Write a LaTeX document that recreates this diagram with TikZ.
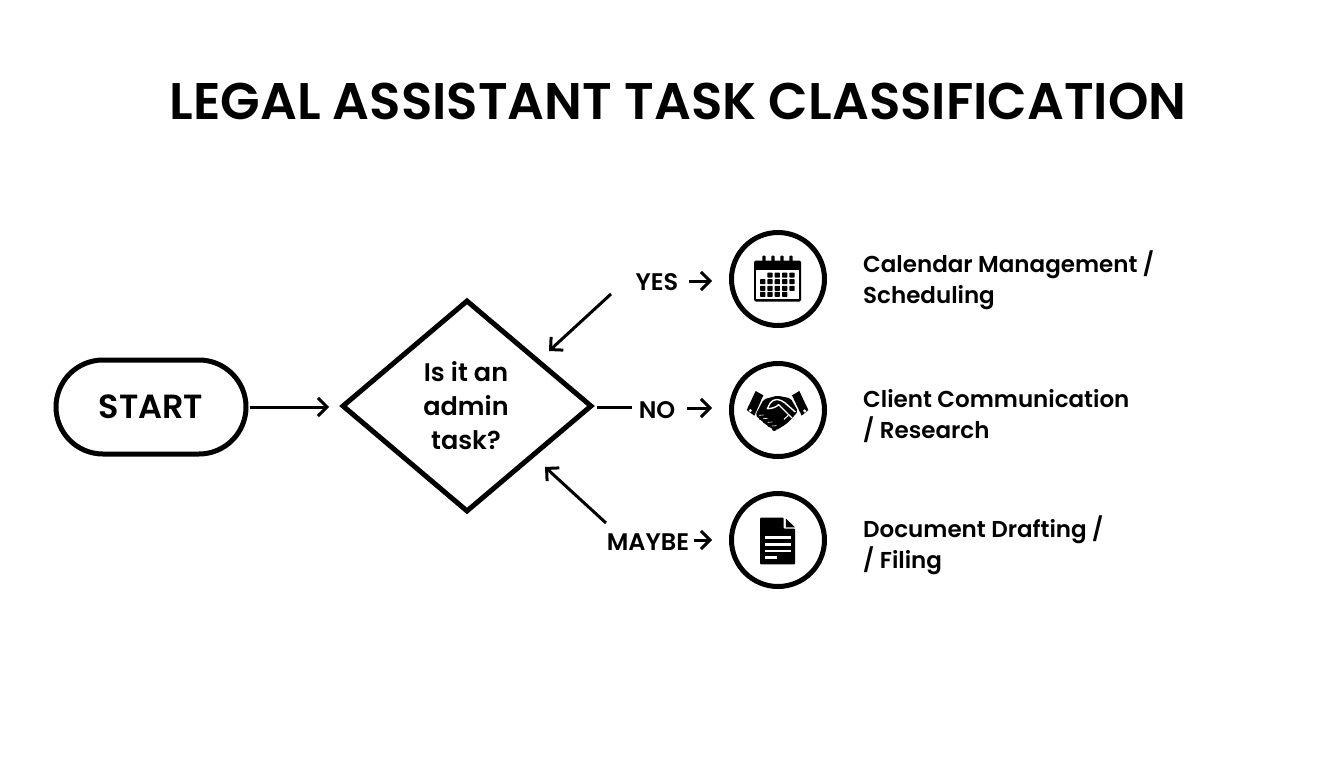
\documentclass[tikz,border=0pt]{standalone}
\usepackage{fontspec}
\setmainfont{Poppins}[UprightFont=* SemiBold,BoldFont=* SemiBold]
\usetikzlibrary{arrows.meta,shapes.geometric}
\tikzset{
  shapeline/.style={draw=black,line width=5pt,line join=miter},
  conn/.style={draw=black,line width=3pt,-{Straight Barb[length=9pt,width=18pt,line width=3pt]}},
  plainconn/.style={draw=black,line width=3pt},
  iconring/.style={circle,draw=black,line width=5pt,minimum size=93pt,inner sep=0pt},
  lab/.style={inner sep=0pt,font=\fontsize{24}{24}\selectfont},
  desc/.style={inner sep=0pt,anchor=west,align=left,font=\fontsize{23}{30.5}\selectfont},
  ink/.style={fill=black,draw=none},
  paper/.style={fill=white,draw=none},
}
\begin{document}
\begin{tikzpicture}[x=1pt,y=-1pt]
\useasboundingbox (0,0) rectangle (1344,768);
\fill[white] (0,0) rectangle (1344,768);
\node[inner sep=0pt,font=\fontsize{51.5}{51.5}\selectfont] (title) at (678,101) {LEGAL ASSISTANT TASK CLASSIFICATION};
\node[shapeline,rounded corners=47pt,minimum width=190pt,minimum height=94pt,inner sep=0pt,font=\fontsize{33.5}{33.5}\selectfont] (start) at (151,407) {START};
\node[shapeline,diamond,inner sep=0pt,aspect=1.18,minimum height=212pt,minimum width=250pt] (dec) at (467,406) {};
\node[inner sep=0pt,align=center,font=\fontsize{25.5}{34}\selectfont] (dectext) at (466,406) {Is it an\\admin\\task?};
\draw[conn] (start.east) ++(1,0) coordinate (s1) -- (329,407) coordinate (s2);
\node[iconring] (c1) at (778,279) {};
\node[iconring] (c2) at (778,410) {};
\node[iconring] (c3) at (778,540) {};
\node[lab] (yes) at (657,282) {YES};
\node[lab] (no) at (657,410) {NO};
\node[lab] (maybe) at (648,542) {MAYBE};
\coordinate (y1) at (611,294); \coordinate (y2) at (549,351);
\coordinate (m1) at (606,523); \coordinate (m2) at (545,467);
\coordinate (n1) at (597,407); \coordinate (n2) at (632,407);
\coordinate (ya) at (689,281); \coordinate (yb) at (712,281);
\coordinate (na) at (687,408); \coordinate (nb) at (712,408);
\coordinate (ma) at (694,540); \coordinate (mb) at (712,540);
\draw[conn] (y1) -- (y2);
\draw[conn] (m1) -- (m2);
\draw[plainconn] (n1) -- (n2);
\draw[conn] (ya) -- (yb);
\draw[conn] (na) -- (nb);
\draw[conn] (ma) -- (mb);
\node[desc] (d1) at (863,280) {Calendar Management /\\Scheduling};
\node[desc] (d2) at (863,416) {Client Communication\\/ Research};
\node[desc] (d3) at (863,545) {Document Drafting /\\/ Filing};
% calendar icon
\begin{scope}
\fill[ink,rounded corners=1.5pt] (754,260.5) rectangle (801,301.5);
\fill[paper] (756.3,270) rectangle (798.7,299.2);
\foreach \x in {764,773,782,791}{\fill[ink,rounded corners=1pt] (\x-1.6,255.5) rectangle (\x+1.6,263);}
\foreach \x in {770,777.3,784.7,792}{\fill[ink,rounded corners=.6pt] (\x-2.6,272.6) rectangle (\x+2.6,277.6);}
\foreach \x in {762.7,770,777.3,784.7,792}{\fill[ink,rounded corners=.6pt] (\x-2.6,279.2) rectangle (\x+2.6,284.2);
  \fill[ink,rounded corners=.6pt] (\x-2.6,285.8) rectangle (\x+2.6,290.8);}
\foreach \x in {762.7,770,777.3,784.7}{\fill[ink,rounded corners=.6pt] (\x-2.6,291.8) rectangle (\x+2.6,296.8);}
\end{scope}
% handshake icon
\begin{scope}[shift={(720,350)},x=0.3333pt,y=-0.3333pt]
\fill[ink] (107,123) -- (130,136) -- (103,197) -- (80,180) -- cycle;
\fill[ink] (238,123) -- (265,180) -- (245,197) -- (216,136) -- cycle;
\fill[paper] (91,182) circle (5);
\fill[paper] (254,183) circle (5);
\fill[ink,rounded corners=2pt] (131,148) -- (172,137) -- (212,145) -- (234,184) -- (222,198) -- (210,212) -- (196,224) -- (168,241) -- (158,236) -- (143,228) -- (125,212) -- (106,196) -- cycle;
\draw[white,line width=1.4pt,line join=round] (226,186) -- (194,158) .. controls (180,148) and (165,142) .. (150,160) -- (142,176) .. controls (155,176) and (168,172) .. (176,164) -- (216,204);
\draw[white,line width=1pt] (205,196) -- (192,208);
\foreach \a/\b in {124/203,136/213,150/224,163/235}{\fill[ink] (\a,\b) circle (8);\draw[white,line width=.6pt] (\a-7,\b-7) -- (\a+7,\b-8);}
\end{scope}
% document icon
\begin{scope}
\fill[ink,rounded corners=.8pt] (760,517.7) -- (783.5,517.7) -- (783.5,528.5) -- (795,528.5) -- (795,564.3) -- (760,564.3) -- cycle;
\fill[ink] (785.8,518.5) -- (795,527.3) -- (785.8,527.3) -- cycle;
\foreach \y in {537.7,544.3,551}{\fill[paper] (765,\y-1.4) rectangle (790.7,\y+1.4);}
\fill[paper] (765,555.9) rectangle (777.3,558.7);
\end{scope}
\end{tikzpicture}
\end{document}
